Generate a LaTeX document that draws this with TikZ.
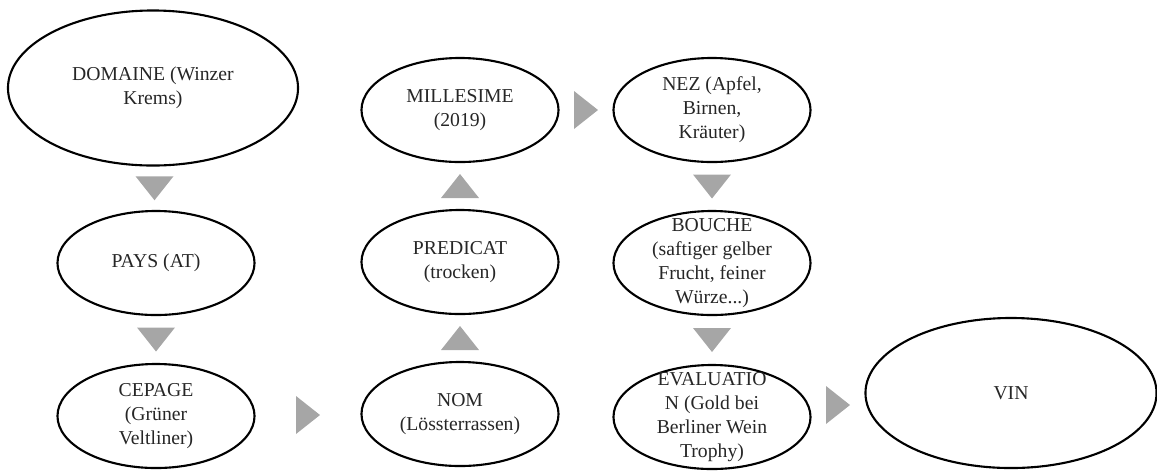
\documentclass[tikz,border=0pt]{standalone}
\usepackage{fontspec}
\setmainfont{Liberation Serif}
\usetikzlibrary{shapes.geometric,calc}

\definecolor{wedgegray}{HTML}{A6A6A6}
\definecolor{inkgray}{HTML}{262626}

\tikzset{
  bubble/.style={ellipse, draw, line width=1.5pt, inner sep=0pt,
    minimum width=4.925cm, minimum height=2.6cm},
  caption/.style={align=center, text=inkgray, inner sep=0pt,
    font=\fontsize{14}{17}\selectfont},
  wedge/.pic={\fill[wedgegray] (-19,-12) -- (19,-12) -- (0,12) -- cycle;}
}

\begin{document}
\begin{tikzpicture}[x=0.025cm, y=-0.025cm]
  \useasboundingbox (0,0) rectangle (1157,470);
  %first column
  \node[bubble, minimum width=7.25cm, minimum height=3.875cm,
        label={[caption]center:{DOMAINE (Winzer\\Krems)}}] (domaine) at (153,88) {};
  \node[bubble, label={[caption]center:{PAYS (AT)}}] (pays) at (156,263) {};
  \node[bubble, label={[caption]center:{CEPAGE\\(Grüner\\Veltliner)}}] (cepage) at (156,416) {};
  %second column, bottom to top
  \node[bubble, label={[caption]center:{NOM\\(Lössterrassen)}}] (nom) at (460,414) {};
  \node[bubble, label={[caption]center:{PREDICAT\\(trocken)}}] (predicat) at (460,262) {};
  \node[bubble, label={[caption]center:{MILLESIME\\(2019)}}] (millesime) at (460,110) {};
  %third column
  \node[bubble, label={[caption]center:{NEZ (Apfel,\\Birnen,\\Kräuter)}}] (nez) at (712,110) {};
  \node[bubble, label={[caption]center:{BOUCHE\\(saftiger gelber\\Frucht, feiner\\Würze...)}}]
        (bouche) at (712,263) {};
  \node[bubble, label={[caption]center:{EVALUATIO\\N (Gold bei\\Berliner Wein\\Trophy)}}]
        (evaluation) at (712,417) {};
  %result
  \node[bubble, minimum width=7.275cm, minimum height=3.75cm,
        label={[caption]center:{VIN}}] (vin) at (1011,393) {};
  %arrows between the steps
  \foreach \a/\b/\r in {domaine.south/pays.north/0, pays.south/cepage.north/0,
                        cepage.east/nom.west/90, nom.north/predicat.south/180,
                        predicat.north/millesime.south/180, millesime.east/nez.west/90,
                        nez.south/bouche.north/0, bouche.south/evaluation.north/0,
                        evaluation.east/vin.west/90}
    \pic[rotate=\r] at ($(\a)!0.5!(\b)$) {wedge};
\end{tikzpicture}
\end{document}
